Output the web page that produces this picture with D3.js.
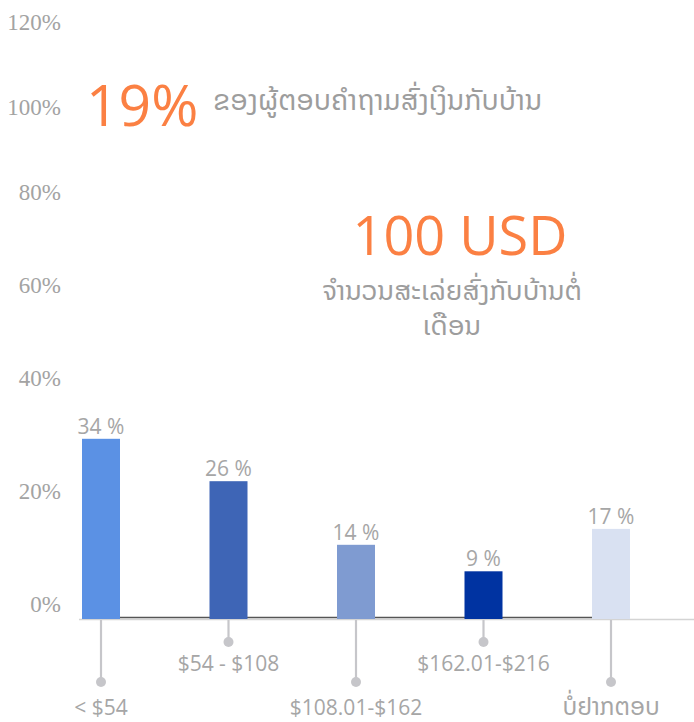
<!DOCTYPE html>
<html>
<head>
<meta charset="utf-8">
<script src="https://cdn.jsdelivr.net/npm/d3@7"></script>
<style>
  html, body { margin: 0; padding: 0; background: #ffffff; }
  svg { display: block; }
</style>
</head>
<body>
<svg id="chart" width="694" height="722"></svg>
<script>
// Monthly remittance amount brackets and share of respondents
const categories = ["< $54", "$54 - $108", "$108.01-$162", "$162.01-$216", "ບໍ່ຢາກຕອບ"];
const shares = [34, 26, 14, 9, 17];
const valueLabels = ["34 %", "26 %", "14 %", "9 %", "17 %"];
const barColors = ["#5b91e4", "#3e65b6", "#7f9bd1", "#0033a1", "#d9e1f2"];
const yTicks = [0, 20, 40, 60, 80, 100, 120];

// Headline figures
const headlineShare = "19%";
const headlineShareText = "ຂອງຜູ້ຕອບຄຳຖາມສົ່ງເງິນກັບບ້ານ";
const headlineAmount = "100 USD";
const headlineAmountText = ["ຈຳນວນສະເລ່ຍສົ່ງກັບບ້ານຕໍ່", "ເດືອນ"];

const svg = d3.select("#chart");
const gray = "#a6a6a6";
const sans = "'Open Sans', 'DejaVu Sans', sans-serif";
const lao = "'Noto Sans Lao', 'DejaVu Sans', 'Open Sans', sans-serif";

const baseY = 619;

// Axis labels on the left
const yAxisScale = d3.scaleLinear()
  .domain([0, 40, 80, 120])
  .range([604, 378, 192, 22]);

const yAxis = d3.axisLeft(yAxisScale)
  .tickValues(yTicks)
  .tickSize(0)
  .tickPadding(0)
  .tickFormat(d => d + "%");

const gAxis = svg.append("g")
  .attr("transform", "translate(61,0)")
  .call(yAxis);
gAxis.select(".domain").remove();
gAxis.selectAll("text")
  .attr("fill", "#a3a3a3")
  .style("font-family", "'Liberation Serif', 'Times New Roman', serif")
  .style("font-size", "23px");

// Bar geometry
const x = d3.scalePoint()
  .domain(categories)
  .range([101, 611]);
const barW = 38;

const yBar = d3.scaleLinear()
  .domain([0, 100])
  .range([baseY, baseY - 530]);

// Baseline
svg.append("line")
  .attr("x1", 79).attr("x2", 694)
  .attr("y1", baseY + 0.5).attr("y2", baseY + 0.5)
  .attr("stroke", "#d4d4d4")
  .attr("stroke-width", 1.5);

// Thin dark connector running between the bars
svg.append("line")
  .attr("x1", x(categories[0])).attr("x2", x(categories[categories.length - 1]))
  .attr("y1", baseY - 1.5).attr("y2", baseY - 1.5)
  .attr("stroke", "#555555")
  .attr("stroke-width", 1.3);

// Bars
svg.append("g").selectAll("rect")
  .data(shares)
  .join("rect")
  .attr("x", (d, i) => x(categories[i]) - barW / 2)
  .attr("y", d => yBar(d))
  .attr("width", barW)
  .attr("height", d => baseY - yBar(d))
  .attr("fill", (d, i) => barColors[i]);

// Value labels above bars
svg.append("g").selectAll("text")
  .data(shares)
  .join("text")
  .attr("x", (d, i) => x(categories[i]))
  .attr("y", d => yBar(d) - 5)
  .attr("text-anchor", "middle")
  .attr("fill", gray)
  .style("font-family", sans)
  .style("font-size", "21px")
  .text((d, i) => valueLabels[i]);

// Category callouts: stems with a dot, staggered in two rows
const rowDot = [682, 642];
const rowText = [715, 671];
const callouts = svg.append("g").selectAll("g")
  .data(categories)
  .join("g")
  .attr("transform", d => `translate(${x(d)},0)`);

callouts.append("line")
  .attr("x1", 0).attr("x2", 0)
  .attr("y1", baseY + 1)
  .attr("y2", (d, i) => rowDot[i % 2])
  .attr("stroke", "#c6c6ca")
  .attr("stroke-width", 2.2);

callouts.append("circle")
  .attr("cx", 0)
  .attr("cy", (d, i) => rowDot[i % 2])
  .attr("r", 5)
  .attr("fill", "#c6c6ca");

callouts.append("text")
  .attr("x", 0)
  .attr("y", (d, i) => rowText[i % 2])
  .attr("text-anchor", "middle")
  .attr("fill", gray)
  .style("font-family", (d, i) => i === categories.length - 1 ? lao : sans)
  .style("font-size", (d, i) => i === categories.length - 1 ? "24px" : "21px")
  .text(d => d);

// Headline: share of respondents
svg.append("text")
  .attr("x", 86).attr("y", 126)
  .attr("fill", "#fb8043")
  .style("font-family", sans)
  .style("font-size", "57px")
  .text(headlineShare);

svg.append("text")
  .attr("x", 213).attr("y", 110)
  .attr("fill", "#9d9d9d")
  .style("font-family", lao)
  .style("font-size", "28px")
  .text(headlineShareText);

// Headline: average monthly amount
svg.append("text")
  .attr("x", 460).attr("y", 255)
  .attr("text-anchor", "middle")
  .attr("fill", "#fb8043")
  .style("font-family", sans)
  .style("font-size", "54px")
  .text(headlineAmount);

svg.append("g").selectAll("text")
  .data(headlineAmountText)
  .join("text")
  .attr("x", 452)
  .attr("y", (d, i) => 300 + i * 35)
  .attr("text-anchor", "middle")
  .attr("fill", "#9d9d9d")
  .style("font-family", lao)
  .style("font-size", "27px")
  .text(d => d);
</script>
</body>
</html>
